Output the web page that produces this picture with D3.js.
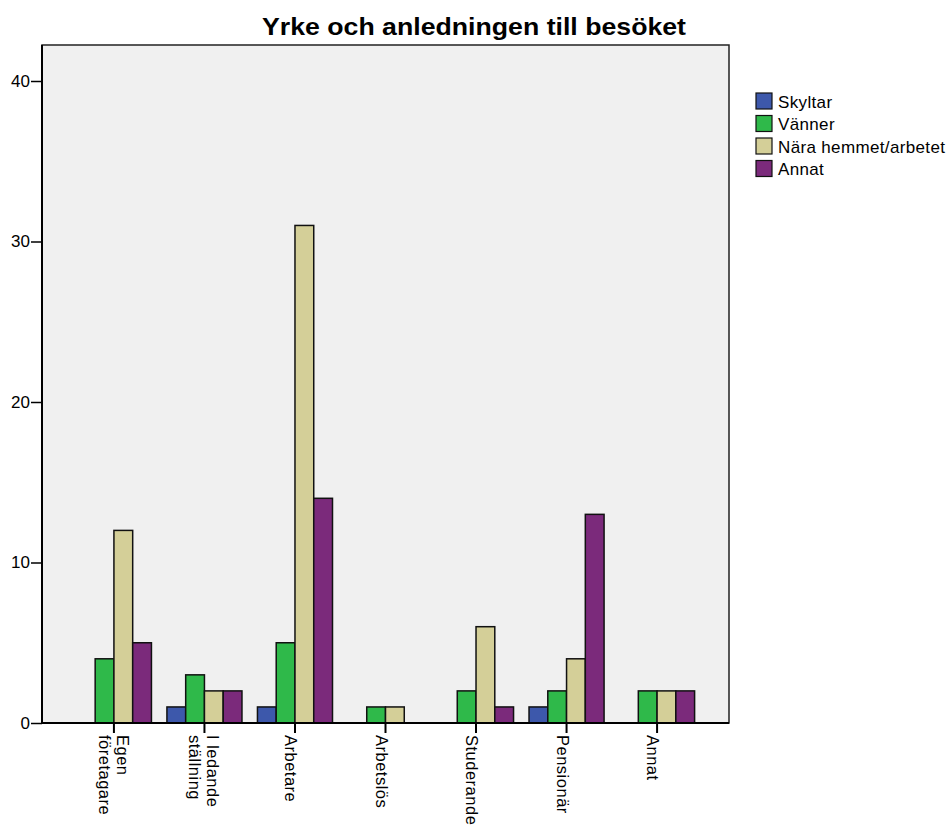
<!DOCTYPE html>
<html>
<head>
<meta charset="utf-8">
<script src="https://cdn.jsdelivr.net/npm/d3@7"></script>
<style>
  body { margin: 0; background: #fff; }
  text { font-family: Arial, "Liberation Sans", sans-serif; }
</style>
</head>
<body>
<div id="chart"></div>
<script>
// Kategorier (yrke) och serier (anledning)
const yrken = [
  ['Egen', 'företagare'],
  ['I ledande', 'ställning'],
  ['Arbetare'],
  ['Arbetslös'],
  ['Studerande'],
  ['Pensionär'],
  ['Annat']
];
const serier = ['Skyltar', 'Vänner', 'Nära hemmet/arbetet', 'Annat'];
const farger = ['#3d58ab', '#2fb94a', '#d4cf98', '#7b2a7b'];

// Antal per serie, i samma ordning som yrken
const skyltar = [0, 1, 1, 0, 0, 1, 0];
const vanner  = [4, 3, 5, 1, 2, 2, 2];
const nara    = [12, 2, 31, 1, 6, 4, 2];
const annat   = [5, 2, 14, 0, 1, 13, 2];
const yTicks  = [0, 10, 20, 30, 40];

const width = 947, height = 826;
const plot = { left: 42, right: 729, top: 45, bottom: 723 };

const svg = d3.select('#chart').append('svg')
  .attr('width', width)
  .attr('height', height);

// Titel
svg.append('text')
  .attr('x', 474)
  .attr('y', 35)
  .attr('text-anchor', 'middle')
  .attr('font-size', 24)
  .attr('font-weight', 'bold')
  .attr('textLength', 424)
  .attr('lengthAdjust', 'spacingAndGlyphs')
  .text('Yrke och anledningen till besöket');

// Skalor
const namn = yrken.map(d => d.join(' '));
const x = d3.scaleBand().domain(namn).range([plot.left, plot.right])
  .paddingInner(0.171).paddingOuter(0.38);
const xInner = d3.scaleBand().domain(serier).range([0, x.bandwidth()]);
const y = d3.scaleLinear().domain([0, 40]).range([plot.bottom, 81]);

// Bakgrund
svg.append('rect')
  .attr('x', plot.left).attr('y', plot.top)
  .attr('width', plot.right - plot.left).attr('height', plot.bottom - plot.top)
  .attr('fill', '#f0f0f0')
  .attr('stroke', '#222').attr('stroke-width', 1.5);

// Staplar
const data = [skyltar, vanner, nara, annat];
const grupp = svg.append('g').selectAll('g').data(namn).join('g')
  .attr('transform', d => `translate(${x(d)},0)`);

grupp.selectAll('rect')
  .data((d, i) => serier.map((s, j) => ({ s, j, v: data[j][i] })).filter(b => b.v > 0))
  .join('rect')
  .attr('x', b => xInner(b.s))
  .attr('y', b => y(b.v))
  .attr('width', xInner.bandwidth())
  .attr('height', b => y(0) - y(b.v))
  .attr('fill', b => farger[b.j])
  .attr('stroke', '#111')
  .attr('stroke-width', 1.5);

// Y-axel
const yAxis = svg.append('g')
  .attr('transform', `translate(${plot.left},0)`)
  .call(d3.axisLeft(y).tickValues(yTicks).tickSize(11).tickSizeOuter(0).tickPadding(1));
yAxis.select('.domain').remove();
yAxis.selectAll('line').attr('stroke', '#000').attr('stroke-width', 1.5);
yAxis.selectAll('text').attr('font-size', 17).attr('fill', '#000');
svg.append('line')
  .attr('x1', plot.left).attr('x2', plot.left)
  .attr('y1', plot.top).attr('y2', plot.bottom)
  .attr('stroke', '#000').attr('stroke-width', 2);

// X-axel
svg.append('line')
  .attr('x1', plot.left).attr('x2', plot.right)
  .attr('y1', plot.bottom).attr('y2', plot.bottom)
  .attr('stroke', '#000').attr('stroke-width', 2);

const xTick = svg.append('g').selectAll('g').data(yrken).join('g')
  .attr('transform', (d, i) => `translate(${x(namn[i]) + x.bandwidth() / 2},${plot.bottom})`);
xTick.append('line').attr('y1', 0).attr('y2', 10)
  .attr('stroke', '#000').attr('stroke-width', 2);
xTick.append('text')
  .attr('transform', 'translate(0,12) rotate(90)')
  .attr('font-size', 16.5)
  .attr('letter-spacing', 0.5)
  .each(function(d) {
    const t = d3.select(this);
    d.forEach((rad, k) => {
      t.append('tspan').attr('x', 0)
        .attr('y', 10 - (d.length - 1) * 13 + k * 18)
        .text(rad);
    });
  });

// Legend
const legend = svg.append('g').attr('transform', 'translate(756,93)');
const rad = legend.selectAll('g').data(serier).join('g')
  .attr('transform', (d, i) => `translate(0,${i * 22.5})`);
rad.append('rect')
  .attr('width', 16).attr('height', 16)
  .attr('fill', (d, i) => farger[i])
  .attr('stroke', '#111').attr('stroke-width', 1.2);
rad.append('text')
  .attr('x', 22).attr('y', 14.5)
  .attr('font-size', 17)
  .attr('letter-spacing', 0.35)
  .text(d => d);
</script>
</body>
</html>
